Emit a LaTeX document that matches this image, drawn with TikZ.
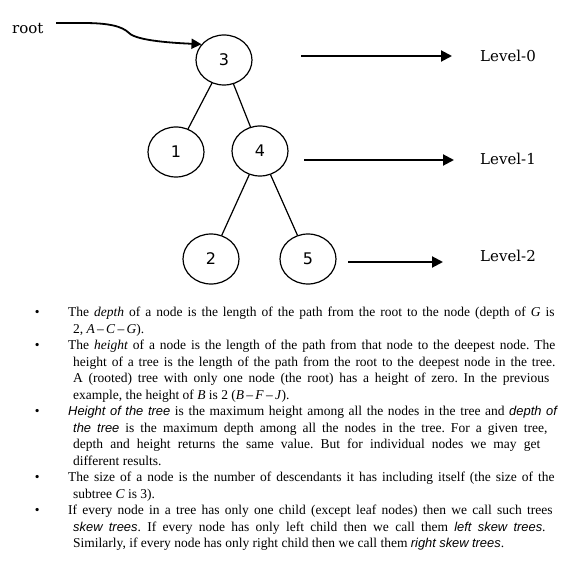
\documentclass[tikz,border=0pt]{standalone}
\usepackage{fontspec}
\setmainfont{Liberation Serif}
\newfontfamily\labelfont{DejaVu Serif}
\newfontfamily\numfont{DejaVu Sans}
\newfontfamily\slantfont{Liberation Sans}
\usetikzlibrary{shapes.geometric}
\usetikzlibrary{arrows.meta}
\tikzset{
    treenode/.style={draw=black, ellipse, line width=1.2pt, minimum width=56pt,
             minimum height=50pt, inner sep=0pt, font=\numfont\fontsize{16}{16}\selectfont},
    branch/.style={draw=black, line width=1.2pt},
    levelarrow/.style={draw=black, line width=2pt, -{Triangle[length=11pt,width=11pt]}},
    rootarrow/.style={draw=black, line width=1.8pt, -{Triangle[length=10pt,width=10pt]}},
    levellabel/.style={anchor=base west, inner sep=0pt, font=\labelfont\fontsize{15}{15}\selectfont},
    bodytext/.style={anchor=north west, inner sep=0pt, text width=497pt,
             font=\fontsize{13.5}{16.5}\selectfont}
  }
\newcommand{\bitem}{\par\hangindent=5pt\hangafter=1\noindent\strut\llap{\textbullet\hspace{28.5pt}}}
\newcommand{\sitx}[1]{{\slantfont\itshape\fontsize{12.9}{16.5}\selectfont #1}}

\begin{document}
\begin{tikzpicture}[x=1pt, y=-1pt]
 \useasboundingbox (0,0) rectangle (578,572);
 %Tree nodes
     \node[treenode] (n3) at (224,60) {3};
     \node[treenode] (n1) at (176,152) {1};
     \node[treenode] (n4) at (260,151) {4};
     \node[treenode] (n2) at (211,259) {2};
     \node[treenode] (n5) at (308,259) {5};
 %Branches
     \draw[branch] (n3) -- (n1);
     \draw[branch] (n3) -- (n4);
     \draw[branch] (n4) -- (n2);
     \draw[branch] (n4) -- (n5);
 %root pointer
     \node[levellabel] (lroot) at (12,34) {root};
     \coordinate (rootstart) at (56,23);
     \draw[rootarrow] (rootstart) -- (83,23) .. controls (108,23) and (122,26) .. (129,33)
          .. controls (137,41) and (175,43) .. (n3.145);
 %Levels
     \node[levellabel] (lvl0) at (480,62) {Level-0};
     \node[levellabel] (lvl1) at (480,165) {Level-1};
     \node[levellabel] (lvl2) at (480,261) {Level-2};
     \coordinate (a0) at (301,56);  \coordinate (b0) at (452,56);
     \coordinate (a1) at (304,160); \coordinate (b1) at (454,160);
     \coordinate (a2) at (348,262); \coordinate (b2) at (443,262);
     \draw[levelarrow] (a0) -- (b0);
     \draw[levelarrow] (a1) -- (b1);
     \draw[levelarrow] (a2) -- (b2);
 %Notes
     \node[bodytext] (notes) at (68,300) {\frenchspacing\hyphenpenalty=10000
 \spaceskip=0.25em plus 0.3em minus 0.1em
 \bitem The \textit{depth} of a node is the length of the path from the root to the node (depth of \textit{G} is\linebreak
 2, \textit{A}\,--\,\textit{C}\,--\,\textit{G}).
 \bitem The \textit{height} of a node is the length of the path from that node to the deepest node. The\linebreak
 height of a tree is the length of the path from the root to the deepest node in the tree.\linebreak
 A (rooted) tree with only one node (the root) has a height of zero. In the previous\linebreak
 example, the height of \textit{B} is 2 (\textit{B}\,--\,\textit{F}\,--\,\textit{J}).
 \bitem \sitx{Height of the tree} is the maximum height among all the nodes in the tree and \sitx{depth of}\linebreak
 \sitx{the tree} is the maximum depth among all the nodes in the tree. For a given tree,\linebreak
 depth and height returns the same value. But for individual nodes we may get\linebreak
 different results.
 \bitem The size of a node is the number of descendants it has including itself (the size of the\linebreak
 subtree \textit{C} is 3).
 \bitem If every node in a tree has only one child (except leaf nodes) then we call such trees\linebreak
 \sitx{skew trees}. If every node has only left child then we call them \sitx{left skew trees}.\linebreak
 Similarly, if every node has only right child then we call them \sitx{right skew trees}.\par};
 \end{tikzpicture}
\end{document}
